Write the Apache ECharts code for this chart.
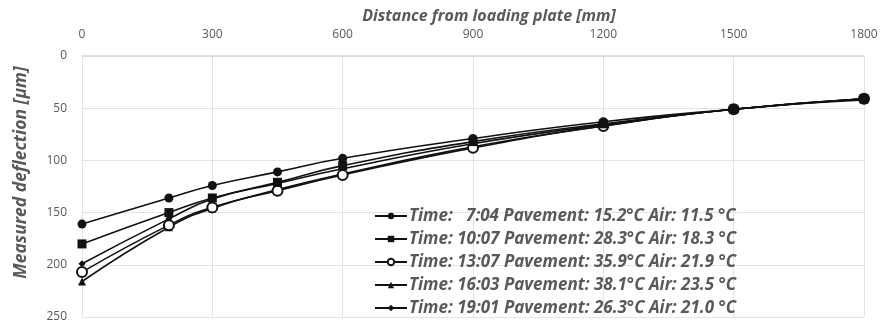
<!DOCTYPE html>
<html>
<head>
<meta charset="utf-8">
<script src="https://cdn.jsdelivr.net/npm/echarts@6/dist/echarts.min.js"></script>
<style>html,body{margin:0;padding:0;background:#fff}#c{width:883px;height:324px}</style>
</head>
<body>
<div id="c"></div>
<script>
const distances = [0, 200, 300, 450, 600, 900, 1200, 1500, 1800];
const seriesNames = [
  'Time:   7:04 Pavement: 15.2°C Air: 11.5 °C',
  'Time: 10:07 Pavement: 28.3°C Air: 18.3 °C',
  'Time: 13:07 Pavement: 35.9°C Air: 21.9 °C',
  'Time: 16:03 Pavement: 38.1°C Air: 23.5 °C',
  'Time: 19:01 Pavement: 26.3°C Air: 21.0 °C'
];
const s0704 = [161, 136, 124, 111, 98, 79, 63, 51, 41];
const s1007 = [180, 150, 136, 121, 105, 82, 65, 51, 41];
const s1307 = [207, 162, 145, 129, 114, 88, 67, 51, 41];
const s1603 = [216, 164, 146, 128, 113, 87, 67, 51, 42];
const s1901 = [199, 156, 137, 122, 108, 84, 66, 51, 41];
const xTicks = [0, 300, 600, 900, 1200, 1500, 1800];
const yTicks = [0, 50, 100, 150, 200, 250];

const allValues = [s0704, s1007, s1307, s1603, s1901];
const symbols = ['circle', 'rect', 'emptyCircle', 'triangle', 'diamond'];
const symbolSizes = [9, 9, 10, 8, 7];

const chart = echarts.init(document.getElementById('c'), null, {renderer: 'canvas'});
const gray = '#595959';
const font = 'Open Sans';
chart.setOption({
  animation: false,
  backgroundColor: '#fff',
  color: ['#111', '#111', '#111', '#111', '#111'],
  grid: {left: 82, right: 19, top: 56, bottom: 7, containLabel: false},
  xAxis: {
    type: 'value', position: 'top', min: 0, max: 1800, interval: 300,
    name: 'Distance from loading plate [mm]', nameLocation: 'middle', nameGap: 32,
    nameTextStyle: {color: gray, fontFamily: font, fontSize: 16, fontStyle: 'italic', fontWeight: 'bold', padding: [0, 0, 0, 32]},
    axisLine: {show: true, lineStyle: {color: '#d9d9d9', width: 1.5}},
    axisTick: {show: false},
    axisLabel: {color: gray, fontFamily: font, fontSize: 12, margin: 15,
      formatter: v => xTicks.includes(v) ? String(v) : ''},
    splitLine: {show: true, lineStyle: {color: '#e3e3e3', width: 1}}
  },
  yAxis: {
    type: 'value', inverse: true, min: 0, max: 250, interval: 50,
    name: 'Measured deflection [µm]', nameLocation: 'middle', nameGap: 52, nameRotate: 90,
    nameTextStyle: {color: gray, fontFamily: font, fontSize: 17.5, fontStyle: 'italic', fontWeight: 'bold', padding: [0, 0, 0, 28]},
    axisLine: {show: false}, axisTick: {show: false},
    axisLabel: {color: gray, fontFamily: font, fontSize: 12, margin: 15,
      formatter: v => yTicks.includes(v) ? String(v) : ''},
    splitLine: {show: true, lineStyle: {color: '#e3e3e3', width: 1}}
  },
  legend: {
    orient: 'vertical', left: 369, top: 201, itemGap: 3, itemWidth: 32, itemHeight: 8,
    textStyle: {color: gray, fontFamily: font, fontSize: 17, lineHeight: 20, fontStyle: 'italic', fontWeight: 'bold', padding: [0,0,0,-3]},
    data: seriesNames
  },
  series: seriesNames.map((n, i) => ({
    name: n, type: 'line', smooth: 0.5,
    data: distances.map((d, j) => [d, allValues[i][j]]),
    symbol: symbols[i], symbolSize: symbolSizes[i],
    lineStyle: {color: '#111', width: 1.6},
    itemStyle: {color: '#111'},
    z: 5 - i
  }))
});
</script>
</body>
</html>
